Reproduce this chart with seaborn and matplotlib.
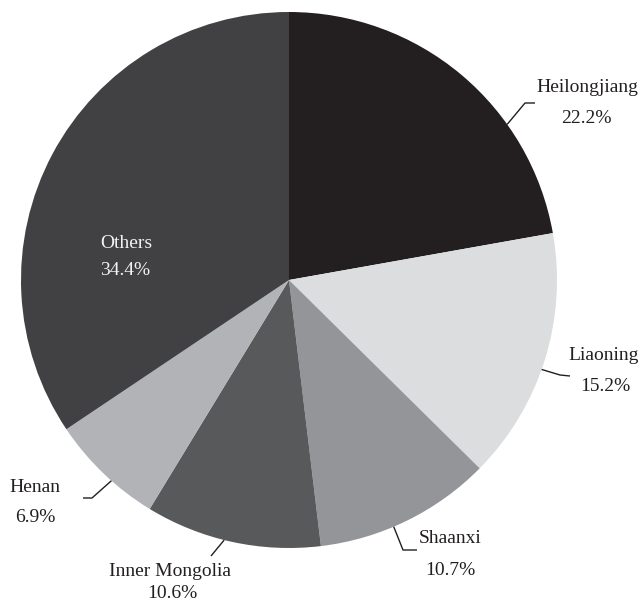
import numpy as np
import matplotlib
matplotlib.use("Agg")
import matplotlib.pyplot as plt
import seaborn as sns

# Share of total by province (percent), clockwise from 12 o'clock
provinces = ["Heilongjiang", "Liaoning", "Shaanxi", "Inner Mongolia", "Henan", "Others"]
shares = [22.2, 15.2, 10.7, 10.6, 6.9, 34.4]
colors = ["#231f20", "#dcdddf", "#939598", "#58595b", "#b1b3b6", "#414042"]

sns.set_theme(style="white")
plt.rcParams["font.family"] = ["Liberation Serif", "DejaVu Serif"]

W, H = 640, 603
CX, CY, R = 289, 280, 268  # pie centre and radius in pixels


def px(x, y):
    """Pixel position -> data coordinates (pie radius = 1)."""
    return (x - CX) / R, (CY - y) / R


fig = plt.figure(figsize=(W / 100, H / 100), dpi=100)
ax = fig.add_axes([0, 0, 1, 1])
ax.pie(shares, colors=colors, startangle=90, counterclock=False,
       radius=1.0, wedgeprops=dict(linewidth=0))
ax.set_aspect("auto")
x0, y0 = px(0, H)
x1, y1 = px(W, 0)
ax.set_xlim(x0, x1)
ax.set_ylim(y0, y1)
ax.axis("off")

FS = 14
TXT = "#231f20"

# Callout layout: anchor angle on the rim, leader-line points, label anchor
callouts = {
    "Heilongjiang":   dict(ang=35.5,   pts=[(525, 103), (535, 103)], name=(587, 92),  val=(586, 123)),
    "Liaoning":       dict(ang=-19.5,  pts=[(560, 375), (570, 376)], name=(604, 360), val=(605, 391)),
    "Shaanxi":        dict(ang=-67.0,  pts=[(403, 550), (417, 550)], name=(450, 543), val=(450, 575)),
    "Inner Mongolia": dict(ang=-104.0, pts=[(211, 556)],             name=(170, 576), val=(172, 598)),
    "Henan":          dict(ang=-131.5, pts=[(92, 498), (83, 498)],   name=(35, 492),  val=(35, 522)),
}

for name, share in zip(provinces, shares):
    label = f"{share:.1f}%"
    if name in callouts:
        c = callouts[name]
        a = np.deg2rad(c["ang"])
        xs = [np.cos(a)] + [px(*p)[0] for p in c["pts"]]
        ys = [np.sin(a)] + [px(*p)[1] for p in c["pts"]]
        ax.plot(xs, ys, color=TXT, lw=1.0, solid_capstyle="butt")
        ax.text(*px(*c["name"]), name, ha="center", va="baseline",
                fontsize=FS, color=TXT)
        ax.text(*px(*c["val"]), label, ha="center", va="baseline",
                fontsize=FS, color=TXT)
    else:
        ax.text(*px(100, 248), name, ha="left", va="baseline",
                fontsize=FS, color="#f2f2f2")
        ax.text(*px(100, 275), label, ha="left", va="baseline",
                fontsize=FS, color="#f2f2f2")

fig.savefig("out.png", dpi=100, facecolor="white")
